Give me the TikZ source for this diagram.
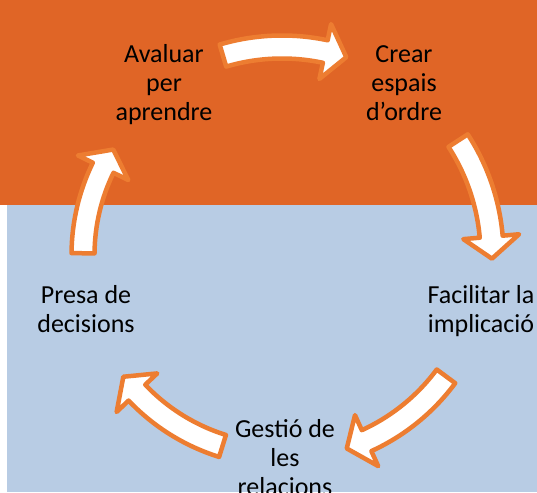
\documentclass[tikz,border=0pt]{standalone}
\usepackage{fontspec}
\setmainfont{Carlito}
\usepackage{tikz}
\definecolor{bgorange}{HTML}{E06526}
\definecolor{bgblue}{HTML}{B8CCE4}
\definecolor{arrorange}{HTML}{ED7D31}

\begin{document}
\begin{tikzpicture}[line cap=round,line join=round,x=1pt,y=1pt,
  cycarrow/.style={draw=arrorange,line width=4.5pt,fill=white},
  cyclabel/.style={font=\fontsize{26}{29}\selectfont,align=center,anchor=base,inner sep=0pt}]
\useasboundingbox (0,0) rectangle (537,492);
\clip (0,0) rectangle (537,492);
\fill[bgorange] (0,287) rectangle (537,492);
\fill[bgblue] (7,0) rectangle (537,287);
\coordinate (cyc) at (282,237);
\begin{scope}[shift={(cyc)}]
\draw[cycarrow] (106.5:219.5pt) arc[start angle=106.5,end angle=78,radius=219.5pt] -- (78:236pt) -- (72:208pt) -- (78:180pt) -- (78:196.5pt) arc[start angle=78,end angle=106.5,radius=196.5pt] -- cycle;
\draw[cycarrow] (33:221.5pt) arc[start angle=33,end angle=5,radius=221.5pt] -- (5:238pt) -- (-1:210pt) -- (5:182pt) -- (5:198.5pt) arc[start angle=5,end angle=33,radius=198.5pt] -- cycle;
\draw[cycarrow] (-36.5:215.5pt) arc[start angle=-36.5,end angle=-65.5,radius=215.5pt] -- (-65.5:232pt) -- (-71.5:204pt) -- (-65.5:176pt) -- (-65.5:192.5pt) arc[start angle=-65.5,end angle=-36.5,radius=192.5pt] -- cycle;
\draw[cycarrow] (252.7:211.5pt) arc[start angle=252.7,end angle=223.5,radius=211.5pt] -- (223.5:228pt) -- (217.5:200pt) -- (223.5:172pt) -- (223.5:188.5pt) arc[start angle=223.5,end angle=252.7,radius=188.5pt] -- cycle;
\draw[cycarrow] (179.5:210.5pt) arc[start angle=179.5,end angle=154,radius=210.5pt] -- (154:227pt) -- (148:199pt) -- (154:171pt) -- (154:187.5pt) arc[start angle=154,end angle=179.5,radius=187.5pt] -- cycle;
\end{scope}
\node[cyclabel] (avaluar) at (164,371) {Avaluar\\per\\aprendre};
\node[cyclabel] (crear) at (404,371) {Crear\\espais\\d’ordre};
\node[cyclabel] (facilitar) at (481,159) {Facilitar la\\implicació};
\node[cyclabel] (gestio) at (285,-3) {Gestió de\\les\\relacions};
\node[cyclabel] (presa) at (86,159) {Presa de\\decisions};
\end{tikzpicture}
\end{document}
